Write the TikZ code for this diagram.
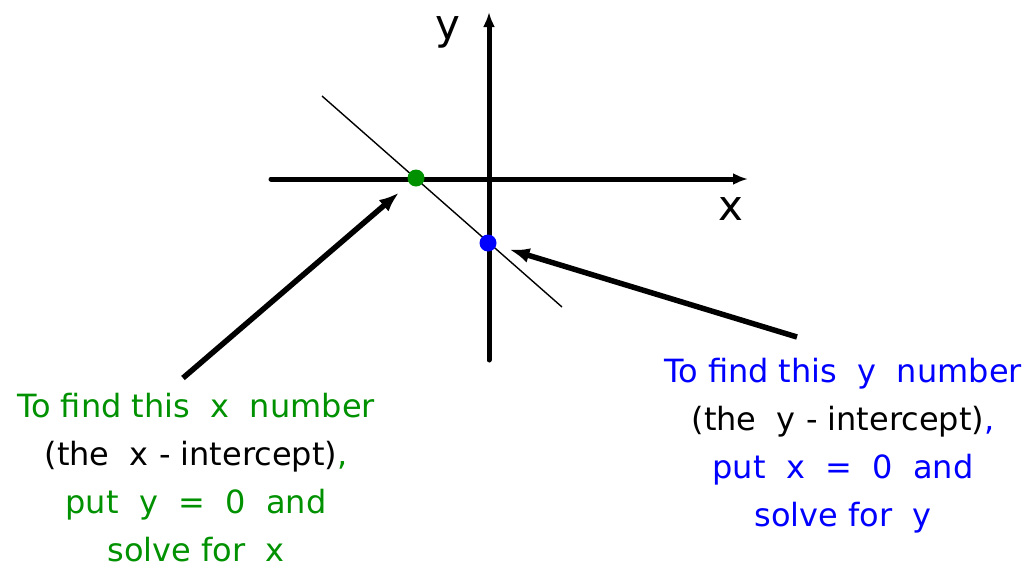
\documentclass[tikz,border=0pt]{standalone}
\usepackage{fontspec}
\setmainfont{DejaVu Sans}
\usepackage{xcolor}
\usetikzlibrary{arrows.meta}
\definecolor{intgreen}{RGB}{0,145,0}
\definecolor{intblue}{RGB}{0,0,255}

\begin{document}
\begin{tikzpicture}[
    x=1pt, y=-1pt,
    axis/.style={line width=5pt, line cap=round, -{Latex[length=15pt,width=12pt]}},
    pointer/.style={line width=5.5pt, -{Latex[length=20pt,width=15pt]}, shorten >=14pt},
    dot/.style={circle, inner sep=0pt, outer sep=0pt, minimum size=17pt},
    note/.style={align=center, font=\fontsize{32}{48}\selectfont},
    axlabel/.style={font=\fontsize{42}{42}\selectfont}
]
\useasboundingbox (0,0) rectangle (1031,571);
% axes
\coordinate (xl) at (271,179);
\coordinate (xr) at (748,179);
\coordinate (yb) at (489,360);
\coordinate (yt) at (489,12);
\draw[axis] (xl) -- (xr);
\draw[axis] (yb) -- (yt);
\node[axlabel] (ylab) at (448,32) {y};
\node[axlabel] (xlab) at (731,209) {x};
% the line and its intercepts
\coordinate (ls) at (322,96);
\coordinate (le) at (562,307);
\draw[line width=1.4pt] (ls) -- (le);
\node[dot, fill=intgreen] (xint) at (416,178) {};
\node[dot, fill=intblue] (yint) at (488,243) {};
% notes
\node[note, text=intgreen] (xnote) at (196,478) {To find this~~x~~number\\ {\color{black}(the~~x - intercept)},\\ put~~y~~=~~0~~and\\ solve for~~x};
\node[note, text=intblue] (ynote) at (843,446) {To find this~~y~~number\\ {\color{black}(the~~y - intercept)},\\ put~~x~~=~~0~~and\\ solve for~~y};
\coordinate (xtail) at (183,378);
\coordinate (ytail) at (797,337);
\draw[pointer] (xtail) -- (xint);
\draw[pointer] (ytail) -- (yint);
\end{tikzpicture}
\end{document}
